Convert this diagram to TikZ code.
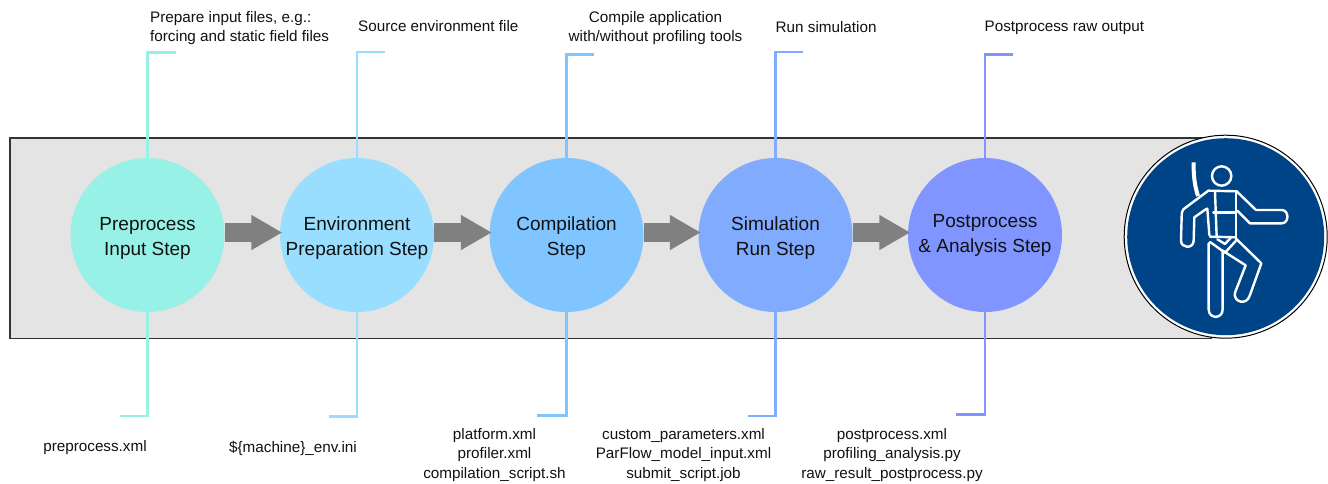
\documentclass[tikz,border=0pt]{standalone}
\usepackage{fontspec}
\setmainfont{Liberation Sans}
\usetikzlibrary{arrows.meta}
\definecolor{c1}{HTML}{98F1E7}
\definecolor{c2}{HTML}{99DEFF}
\definecolor{c3}{HTML}{80C5FF}
\definecolor{c4}{HTML}{80ABFF}
\definecolor{c5}{HTML}{8095FF}
\definecolor{signblue}{HTML}{004488}
\definecolor{band}{HTML}{E4E4E4}
\definecolor{ink}{HTML}{111111}
\definecolor{arrowgray}{HTML}{808080}
\newcommand\stepText[3]{\raisebox{#1}[\height][\depth]{\begin{tabular}{@{}c@{}}#2\\#3\end{tabular}}}
\tikzset{
  stepcircle/.style={circle,minimum size=154pt,inner sep=0pt,fill=#1,align=center,text=ink,font=\fontsize{19}{24.5}\selectfont},
  flowarrow/.style={draw=arrowgray,line width=19pt,-{Triangle[length=31pt,width=33pt]},shorten >=-2.5pt},
  bracket/.style={draw=#1,line width=2.3pt},
  note/.style={text=ink,font=\fontsize{15.25}{19.5}\selectfont,inner sep=0pt},
  fig/.style={draw=white,line width=2.4pt,line join=round,line cap=round},
}
\begin{document}
\begin{tikzpicture}[x=1pt,y=-1pt]
\useasboundingbox (0,0) rectangle (1328,483);
\node[draw=black!80,fill=band,line width=1.5pt,minimum width=1201pt,minimum height=200.6pt,inner sep=0pt,anchor=north west] (band) at (9.2,137.2) {};
\coordinate (t1) at (176,52.5);
\coordinate (b1) at (120,416);
\coordinate (t2) at (385,52);
\coordinate (b2) at (329,416.5);
\coordinate (t3) at (594,54.5);
\coordinate (b3) at (537,415.5);
\coordinate (t4) at (803,52);
\coordinate (b4) at (748,416);
\coordinate (t5) at (1013,54.5);
\coordinate (b5) at (956,414.5);
\node[stepcircle=c1] (s1) at (147.5,235) {\stepText{-3pt}{Preprocess}{Input Step}};
\node[stepcircle=c2] (s2) at (357,235) {\stepText{-3pt}{Environment}{Preparation Step}};
\node[stepcircle=c3] (s3) at (566.5,235) {\stepText{-3pt}{Compilation}{Step}};
\node[stepcircle=c4] (s4) at (775.5,235) {\stepText{-3pt}{Simulation}{Run Step}};
\node[stepcircle=c5] (s5) at (985,235) {\stepText{0pt}{Postprocess}{\& Analysis Step}};
\foreach \i/\c in {1/c1,2/c2,3/c3,4/c4,5/c5}{
  \draw[bracket=\c] (s\i.north) |- (t\i);
  \draw[bracket=\c] (s\i.south) |- (b\i);
}
\draw[flowarrow] ([yshift=2.5pt]s1.east) -- ([yshift=2.5pt]s2.west);
\draw[flowarrow] ([yshift=2.5pt]s2.east) -- ([yshift=2.5pt]s3.west);
\draw[flowarrow] ([yshift=2.5pt]s3.east) -- ([yshift=2.5pt]s4.west);
\draw[flowarrow] ([yshift=2.5pt]s4.east) -- ([yshift=2.5pt]s5.west);
\node[note,anchor=west,align=left] (n1) at (150,28) {Prepare input files, e.g.:\\forcing and static field files};
\node[note,anchor=west] (n2) at (358,26.5) {Source environment file};
\node[note,align=center] (n3) at (655.5,28) {Compile application\\with/without profiling tools};
\node[note,anchor=west] (n4) at (775.5,27.5) {Run simulation};
\node[note,anchor=west] (n5) at (984.5,27.5) {Postprocess raw output};
\node[note] (m1) at (95,447.5) {preprocess.xml};
\node[note] (m2) at (293,448) {\$\{machine\}\_env.ini};
\node[note,align=center] (m3) at (494.5,455) {platform.xml\\profiler.xml\\compilation\_script.sh};
\node[note,align=center] (m4) at (683.5,455) {custom\_parameters.xml\\ParFlow\_model\_input.xml\\submit\_script.job};
\node[note,align=center] (m5) at (892,455) {postprocess.xml\\profiling\_analysis.py\\raw\_result\_postprocess.py};
% safety sign
\node[circle,fill=white,draw=black,line width=1pt,minimum size=203pt,inner sep=0pt] (sign) at (1225.7,236.7) {};
\node[circle,fill=signblue,minimum size=197pt,inner sep=0pt] at (sign) {};
\begin{scope}[shift={(1100,120)},x=0.3333pt,y=-0.3333pt]
\draw[fig] (365,168) circle (29);
\draw[fig,line width=4pt,line cap=butt] (281,127) .. controls (280,170) and (285,200) .. (294,228);
\draw[fig] (325,212) -- (250,268) .. controls (245,275) and (245,280) .. (245,290) -- (243,362) .. controls (243,385) and (280,388) .. (281,362) -- (283,292) -- (320,266);
\draw[fig] (325,212) -- (410,214) -- (468,270) -- (545,270) .. controls (568,270) and (568,310) .. (545,310) -- (450,310) -- (412,272);
\draw[fig] (322,266) -- (328,345);
\draw[fig] (345,215) -- (350,350);
\draw[fig] (408,215) -- (408,352);
\draw[fig] (340,277) -- (408,277);
\draw[fig] (330,350) -- (408,352);
\draw[fig] (330,366) -- (375,398) -- (410,360);
\draw[fig] (352,358) -- (375,372) -- (392,354);
\draw[fig] (326,370) -- (326,568) .. controls (326,598) and (368,598) .. (368,568) -- (368,392) -- (437,436) -- (405,518) .. controls (398,545) and (440,560) .. (450,525) -- (484,430) -- (408,356);
\end{scope}
\end{tikzpicture}
\end{document}
